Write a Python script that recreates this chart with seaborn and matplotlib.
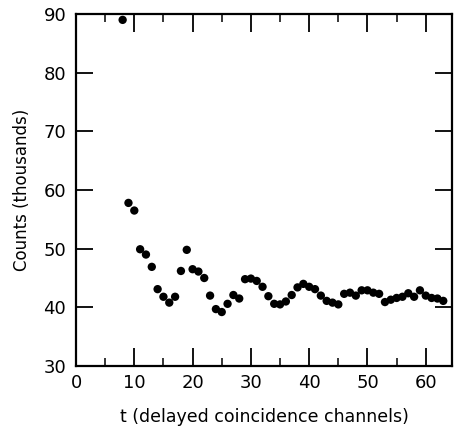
import matplotlib
matplotlib.use("Agg")
import matplotlib.pyplot as plt
import seaborn as sns
import pandas as pd
from matplotlib.ticker import MultipleLocator

channels = [8, 9, 10, 11, 12, 13, 14, 15, 16, 17, 18, 19, 20, 21, 22, 23, 24, 25,
            26, 27, 28, 29, 30, 31, 32, 33, 34, 35, 36, 37, 38, 39, 40, 41, 42, 43,
            44, 45, 46, 47, 48, 49, 50, 51, 52, 53, 54, 55, 56, 57, 58, 59, 60, 61,
            62, 63]
counts = [89.0, 57.8, 56.5, 49.9, 49.0, 46.9, 43.1, 41.8, 40.8, 41.8, 46.2, 49.8,
          46.5, 46.1, 45.0, 42.0, 39.7, 39.2, 40.6, 42.1, 41.5, 44.8, 44.9, 44.5,
          43.5, 41.9, 40.6, 40.5, 41.0, 42.1, 43.4, 44.0, 43.5, 43.1, 42.0, 41.1,
          40.8, 40.5, 42.3, 42.5, 42.0, 42.9, 42.9, 42.5, 42.3, 40.9, 41.3, 41.6,
          41.8, 42.4, 41.8, 42.9, 42.0, 41.6, 41.5, 41.1]
x_ticks = [0, 10, 20, 30, 40, 50, 60]
y_ticks = [30, 40, 50, 60, 70, 80, 90]

df = pd.DataFrame({"t": channels, "counts": counts})

sns.set_style("ticks")
plt.rcParams["font.family"] = ["DejaVu Sans"]

fig = plt.figure(figsize=(4.55, 4.29), dpi=100)
ax = fig.add_axes([76 / 455, 1 - 366 / 429, (452 - 76) / 455, (366 - 14) / 429])

sns.scatterplot(data=df, x="t", y="counts", ax=ax, color="black", s=36,
                edgecolor="none", linewidth=0)

ax.set_xlim(0, 64.5)
ax.set_ylim(30, 90)
ax.set_xticks(x_ticks)
ax.set_yticks(y_ticks)
ax.xaxis.set_minor_locator(MultipleLocator(5))

for side in ["top", "bottom", "left", "right"]:
    ax.spines[side].set_visible(True)
    ax.spines[side].set_linewidth(1.6)
    ax.spines[side].set_color("black")

ax.tick_params(axis="x", which="major", direction="in", length=13, width=1.3,
               top=True, bottom=True, labelsize=13, pad=6, colors="black",
               labelcolor="black")
ax.tick_params(axis="x", which="minor", direction="in", length=6, width=1.1,
               top=True, bottom=True, colors="black")
ax.tick_params(axis="y", which="major", direction="in", length=12, width=1.3,
               left=True, right=True, labelsize=13, pad=7, colors="black",
               labelcolor="black")

ax.set_xlabel("t (delayed coincidence channels)", fontsize=12.5, fontweight="medium",
              labelpad=11, color="black")
ax.set_ylabel("Counts (thousands)", fontsize=12, fontweight="medium", labelpad=9,
              color="black")

fig.savefig("out.png", dpi=100)
